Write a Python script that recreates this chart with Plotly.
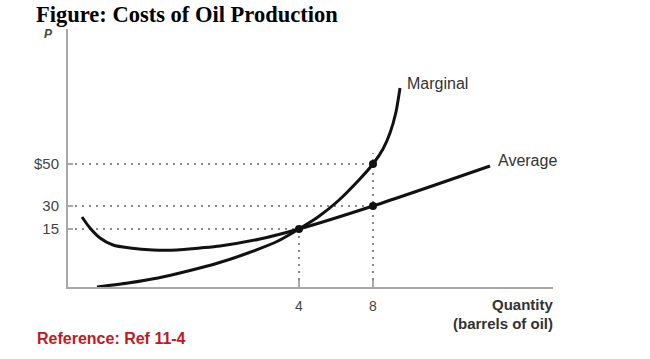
import plotly.graph_objects as go

# Schematic chart: coordinates are in drawing units of the diagram's plane
# (x from origin along quantity axis, y from origin along price axis)
price_tick_pos = [58, 81, 123]
price_tick_labels = ["15", "30", "$50"]
qty_tick_pos = [231, 305]
qty_tick_labels = ["4", "8"]

marginal_x = [29, 60, 90, 120, 150, 180, 210, 231, 250, 270, 290, 305, 315, 322, 328, 332]
marginal_y = [0, 4, 9, 16, 24, 34, 46, 58, 70, 86, 106, 123, 138, 154, 175, 199]

average_x = [14, 22, 32, 45, 62, 85, 109, 132, 152, 192, 231, 305, 422]
average_y = [70, 59, 49, 42, 39, 37, 37, 39, 41, 48, 58, 81, 121]

point_x = [231, 305, 305]
point_y = [58, 81, 123]

X_MAX, Y_MAX = 485, 258


def px(u):
    return u / X_MAX


def py(u):
    return u / Y_MAX


fig = go.Figure()

dot = dict(color="#8a8a8a", width=2, dash="2px,5px")
# horizontal guides
fig.add_trace(go.Scatter(x=[0, qty_tick_pos[0]], y=[price_tick_pos[0]] * 2, mode="lines", line=dot, hoverinfo="skip"))
fig.add_trace(go.Scatter(x=[0, qty_tick_pos[1]], y=[price_tick_pos[1]] * 2, mode="lines", line=dot, hoverinfo="skip"))
fig.add_trace(go.Scatter(x=[0, qty_tick_pos[1]], y=[price_tick_pos[2]] * 2, mode="lines", line=dot, hoverinfo="skip"))
# vertical guides
fig.add_trace(go.Scatter(x=[qty_tick_pos[0]] * 2, y=[0, price_tick_pos[0]], mode="lines", line=dot, hoverinfo="skip"))
fig.add_trace(go.Scatter(x=[qty_tick_pos[1]] * 2, y=[0, 134], mode="lines", line=dot, hoverinfo="skip"))

fig.add_trace(go.Scatter(x=marginal_x, y=marginal_y, mode="lines",
                         line=dict(color="#111111", width=3, shape="spline", smoothing=0.6)))
fig.add_trace(go.Scatter(x=average_x, y=average_y, mode="lines",
                         line=dict(color="#111111", width=3, shape="spline", smoothing=0.8)))
fig.add_trace(go.Scatter(x=point_x, y=point_y, mode="markers",
                         marker=dict(color="#111111", size=8)))

ann = []
ann.append(dict(x=px(-33), y=py(272), xref="paper", yref="paper", xanchor="left", yanchor="middle",
                text="<b>Figure: Costs of Oil Production</b>", showarrow=False, borderpad=0,
                font=dict(family="Liberation Serif", size=22.5, color="#000000")))
ann.append(dict(x=px(-19.5), y=py(253), xref="paper", yref="paper", xanchor="center", yanchor="middle",
                text="<b><i>P</i></b>", showarrow=False, borderpad=0,
                font=dict(family="Liberation Sans", size=12, color="#444444")))
ann.append(dict(x=px(337), y=py(204), xref="paper", yref="paper", xanchor="left", yanchor="middle",
                text="Marginal", showarrow=False,
                font=dict(family="Liberation Sans", size=16, color="#333333")))
ann.append(dict(x=px(428), y=py(127), xref="paper", yref="paper", xanchor="left", yanchor="middle",
                text="Average", showarrow=False,
                font=dict(family="Liberation Sans", size=16, color="#333333")))
ann.append(dict(x=px(487), y=py(-17), xref="paper", yref="paper", xanchor="right", yanchor="middle",
                text="<b>Quantity</b>", showarrow=False,
                font=dict(family="Liberation Sans", size=15, color="#333333")))
ann.append(dict(x=px(487), y=py(-36), xref="paper", yref="paper", xanchor="right", yanchor="middle",
                text="<b>(barrels of oil)</b>", showarrow=False,
                font=dict(family="Liberation Sans", size=15, color="#333333")))
ann.append(dict(x=px(-33), y=py(-51), xref="paper", yref="paper", xanchor="left", yanchor="middle",
                text="<b>Reference: Ref 11-4</b>", showarrow=False,
                font=dict(family="Liberation Sans", size=16, color="#c0191f")))

fig.update_layout(
    width=650, height=359,
    margin=dict(l=68, r=97, t=29, b=72),
    paper_bgcolor="white", plot_bgcolor="white",
    showlegend=False,
    annotations=ann,
    xaxis=dict(range=[0, X_MAX], showgrid=False, zeroline=False, showline=True,
               linecolor="#a8a8a8", linewidth=2, ticks="inside", ticklen=7,
               tickcolor="#a8a8a8", tickwidth=2,
               tickvals=qty_tick_pos, ticktext=qty_tick_labels,
               ticklabelstandoff=5,
               tickfont=dict(family="Liberation Sans", size=14, color="#444444"),
               fixedrange=True),
    yaxis=dict(range=[0, Y_MAX], showgrid=False, zeroline=False, showline=True,
               linecolor="#a8a8a8", linewidth=2, ticks="inside", ticklen=5,
               tickcolor="#a8a8a8", tickwidth=2,
               tickvals=price_tick_pos, ticktext=price_tick_labels,
               ticklabelstandoff=4,
               tickfont=dict(family="Liberation Sans", size=15, color="#444444"),
               fixedrange=True),
)

fig.write_html("out.html", config={"displayModeBar": False},
               post_script="document.body.style.margin='0';document.body.style.overflow='hidden';")
